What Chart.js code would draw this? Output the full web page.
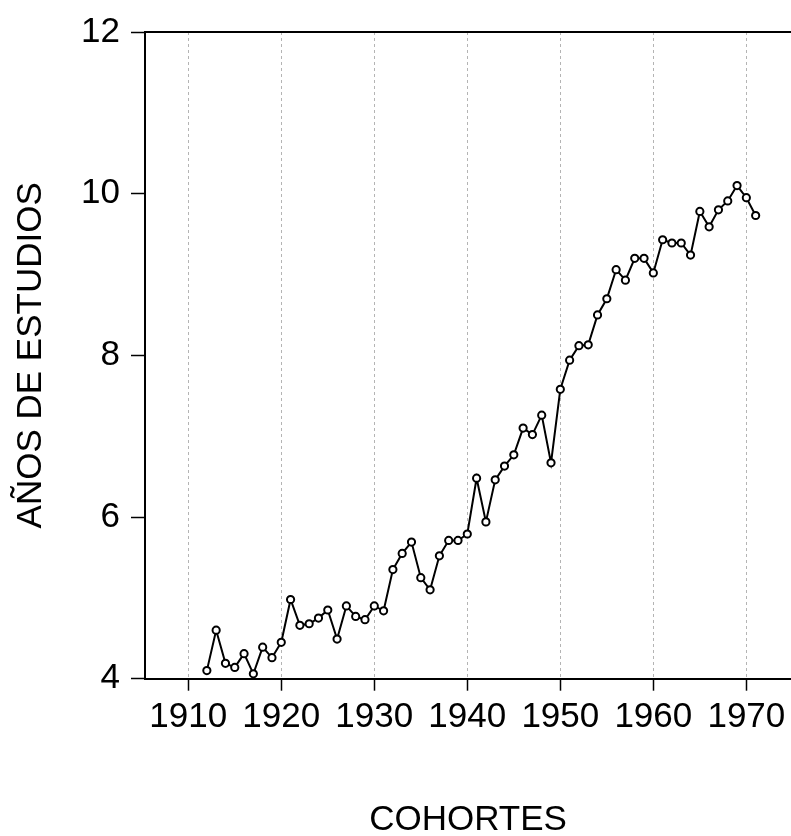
<!DOCTYPE html>
<html>
<head>
<meta charset="utf-8">
<script src="https://cdn.jsdelivr.net/npm/chart.js@4.4.1/dist/chart.umd.min.js"></script>
<style>
  html, body { margin: 0; padding: 0; background: #fff; }
  #wrap { width: 791px; height: 836px; position: relative; }
</style>
</head>
<body>
<div id="wrap"><canvas id="myChart"></canvas></div>
<script>
const COHORTES = [1912, 1913, 1914, 1915, 1916, 1917, 1918, 1919, 1920, 1921,
                  1922, 1923, 1924, 1925, 1926, 1927, 1928, 1929, 1930, 1931,
                  1932, 1933, 1934, 1935, 1936, 1937, 1938, 1939, 1940, 1941,
                  1942, 1943, 1944, 1945, 1946, 1947, 1948, 1949, 1950, 1951,
                  1952, 1953, 1954, 1955, 1956, 1957, 1958, 1959, 1960, 1961,
                  1962, 1963, 1964, 1965, 1966, 1967, 1968, 1969, 1970, 1971];
const ANOS_ESTUDIOS = [4.10, 4.60, 4.19, 4.14, 4.31, 4.06, 4.39, 4.26, 4.45, 4.98,
                       4.66, 4.68, 4.75, 4.85, 4.49, 4.90, 4.77, 4.73, 4.90, 4.84,
                       5.35, 5.55, 5.69, 5.25, 5.10, 5.52, 5.71, 5.71, 5.79, 6.48,
                       5.94, 6.46, 6.63, 6.77, 7.10, 7.02, 7.26, 6.67, 7.58, 7.94,
                       8.12, 8.13, 8.50, 8.70, 9.06, 8.93, 9.20, 9.20, 9.02, 9.43,
                       9.39, 9.39, 9.24, 9.78, 9.59, 9.80, 9.91, 10.10, 9.95, 9.73];
const X_TICKS = [1910, 1920, 1930, 1940, 1950, 1960, 1970];
const Y_TICKS = [4, 6, 8, 10, 12];

const FONT = 'Liberation Sans, Arial, sans-serif';

// linea superior del marco
const topLine = {
    id: 'topLine',
    afterDraw(chart) {
        const a = chart.chartArea;
        const ctx = chart.ctx;
        ctx.save();
        ctx.strokeStyle = '#000';
        ctx.lineWidth = 2;
        ctx.beginPath();
        ctx.moveTo(a.left - 1, a.top);
        ctx.lineTo(a.right, a.top);
        ctx.stroke();
        ctx.restore();
    }
};

const puntos = COHORTES.map((c, i) => ({x: c, y: ANOS_ESTUDIOS[i]}));

const myChart = new Chart(document.getElementById('myChart'), {
    type: 'line',
    data: {
        datasets: [{
            label: 'Años de estudios',
            data: puntos,
            borderColor: '#000',
            borderWidth: 2,
            backgroundColor: '#fff',
            pointRadius: 3.6,
            pointBorderWidth: 2,
            pointBorderColor: '#000',
            pointBackgroundColor: '#fff',
            tension: 0
        }]
    },
    plugins: [topLine],
    options: {
        responsive: true,
        maintainAspectRatio: false,
        animation: false,
        layout: { autoPadding: false, padding: { top: 29, right: 0, left: 0, bottom: 0 } },
        plugins: {
            legend: { display: false },
            tooltip: { enabled: false }
        },
        scales: {
            x: {
                type: 'linear',
                min: 1905.35,
                max: 1974.8,
                afterFit: (s) => { s.height = 157.3; s.paddingRight = 0; },
                afterBuildTicks: (s) => { s.ticks = X_TICKS.map(v => ({value: v})); },
                ticks: {
                    color: '#000',
                    font: { family: FONT, size: 35 },
                    padding: 6,
                    maxRotation: 0,
                    autoSkip: false,
                    callback: (v) => String(v)
                },
                grid: {
                    color: '#b4b4b4',
                    lineWidth: 1,
                    drawTicks: true,
                    tickLength: 12,
                    tickColor: '#000',
                    tickWidth: 1.5,
                    tickBorderDash: []
                },
                border: { color: '#000', width: 2, dash: [3, 3] },
                title: {
                    display: true,
                    text: 'COHORTES',
                    color: '#000',
                    font: { family: FONT, size: 35, lineHeight: 0.9 },
                    padding: 0
                }
            },
            y: {
                min: 4,
                max: 12,
                afterFit: (s) => { s.width = 145; },
                afterBuildTicks: (s) => { s.ticks = Y_TICKS.map(v => ({value: v})); },
                ticks: {
                    color: '#000',
                    font: { family: FONT, size: 35 },
                    padding: 11
                },
                grid: {
                    drawOnChartArea: false,
                    drawTicks: true,
                    tickLength: 14,
                    tickColor: '#000',
                    tickWidth: 1.5
                },
                border: { color: '#000', width: 2 },
                title: {
                    display: true,
                    text: 'AÑOS DE ESTUDIOS',
                    color: '#000',
                    font: { family: FONT, size: 35 },
                    padding: { top: 10, bottom: 0 }
                }
            }
        }
    }
});
</script>
</body>
</html>
